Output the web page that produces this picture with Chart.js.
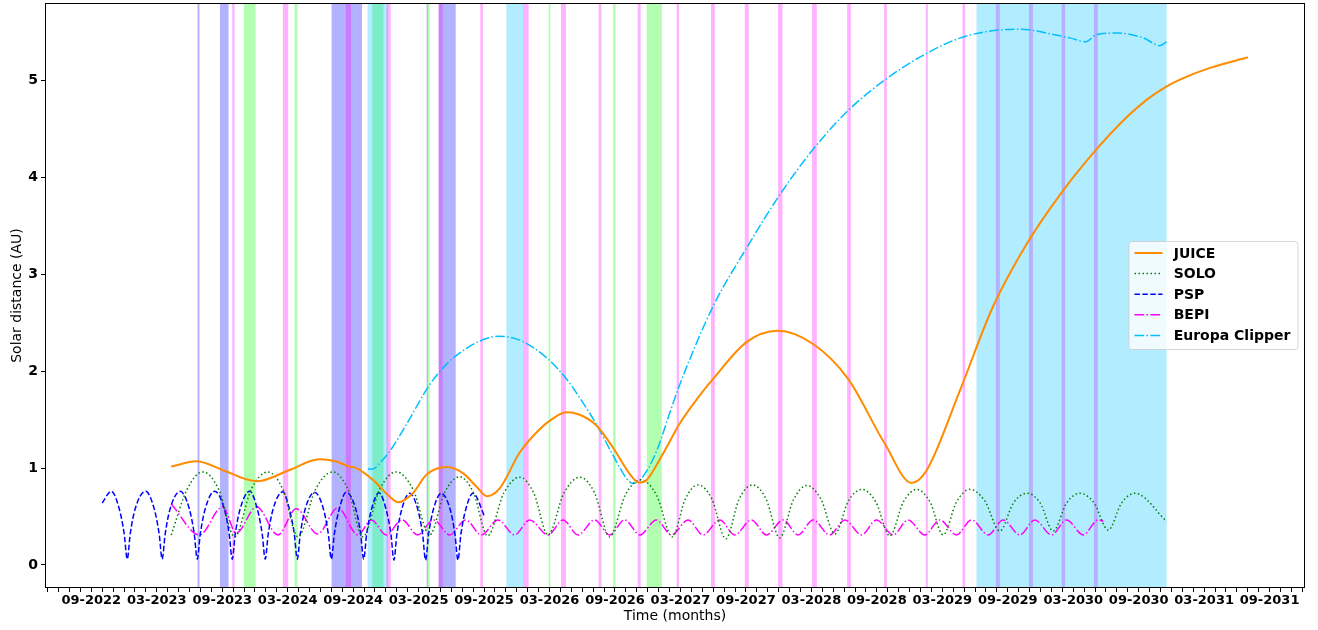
<!DOCTYPE html>
<html>
<head>
<meta charset="utf-8">
<title>Solar distance</title>
<script src="https://cdn.jsdelivr.net/npm/chart.js@4.4.1/dist/chart.umd.min.js"></script>
<style>
  html, body { margin: 0; padding: 0; background: #fff; }
  canvas { display: block; }
</style>
</head>
<body>
<canvas id="orbits" width="1318" height="630"></canvas>
<script>
// time is in decimal years, distance in AU

const juiceT = [2023.277, 2023.468, 2023.669, 2023.850, 2023.937, 2024.181, 2024.410, 2024.538, 2024.640, 2024.691,
  2024.818, 2024.945, 2025.009, 2025.123, 2025.226, 2025.379, 2025.505, 2025.608, 2025.690, 2025.786,
  2025.939, 2026.091, 2026.191, 2026.296, 2026.397, 2026.525, 2026.652, 2026.779, 2026.850, 2026.907,
  2027.034, 2027.161, 2027.314, 2027.416, 2027.671, 2027.910, 2028.180, 2028.447, 2028.728, 2028.932,
  2029.046, 2029.301, 2029.555, 2029.810, 2030.065, 2030.319, 2030.574, 2030.727, 2030.880, 2030.982,
  2031.211, 2031.501];
const juiceAU = [1.015, 1.07, 0.98, 0.885, 0.865, 0.98, 1.09, 1.067, 1.015, 1.0,
  0.878, 0.706, 0.647, 0.74, 0.93, 1.01, 0.947, 0.81, 0.71, 0.79,
  1.16, 1.40, 1.51, 1.575, 1.55, 1.44, 1.21, 0.94, 0.85, 0.875,
  1.15, 1.46, 1.75, 1.92, 2.3, 2.417, 2.28, 1.92, 1.25, 0.847,
  0.974, 1.80, 2.67, 3.31, 3.82, 4.25, 4.62, 4.80, 4.94, 5.01,
  5.13, 5.24];

const soloT = [2023.277, 2023.398, 2023.519, 2023.640, 2023.761, 2023.888, 2024.015, 2024.130, 2024.245, 2024.379,
  2024.512, 2024.627, 2024.741, 2024.869, 2024.996, 2025.124, 2025.251, 2025.366, 2025.480, 2025.587,
  2025.694, 2025.817, 2025.939, 2026.047, 2026.155, 2026.276, 2026.397, 2026.512, 2026.626, 2026.745,
  2026.863, 2026.984, 2027.105, 2027.203, 2027.301, 2027.407, 2027.513, 2027.615, 2027.717, 2027.821,
  2027.925, 2028.029, 2028.132, 2028.239, 2028.346, 2028.449, 2028.552, 2028.659, 2028.766, 2028.869,
  2028.972, 2029.073, 2029.173, 2029.275, 2029.377, 2029.492, 2029.606, 2029.710, 2029.813, 2029.914,
  2030.014, 2030.116, 2030.218, 2030.326, 2030.434, 2030.536, 2030.638, 2030.880];
const soloAU = [0.31, 0.78, 0.96, 0.78, 0.29, 0.78, 0.96, 0.78, 0.29, 0.78,
  0.96, 0.78, 0.29, 0.78, 0.96, 0.78, 0.31, 0.75, 0.91, 0.74,
  0.30, 0.74, 0.906, 0.74, 0.31, 0.74, 0.906, 0.74, 0.29, 0.72,
  0.88, 0.72, 0.29, 0.68, 0.826, 0.68, 0.27, 0.68, 0.826, 0.68,
  0.28, 0.67, 0.82, 0.68, 0.32, 0.66, 0.78, 0.65, 0.30, 0.65,
  0.78, 0.65, 0.31, 0.65, 0.78, 0.66, 0.35, 0.64, 0.74, 0.64,
  0.35, 0.64, 0.74, 0.64, 0.36, 0.64, 0.74, 0.45];

const pspT = [2022.750, 2022.819,
  2022.880, 2022.918, 2022.941, 2022.964, 2023.002, 2023.081,
  2023.147, 2023.185, 2023.208, 2023.231, 2023.269, 2023.346,
  2023.415, 2023.453, 2023.476, 2023.499, 2023.537, 2023.608,
  2023.682, 2023.720, 2023.743, 2023.766, 2023.804, 2023.876,
  2023.934, 2023.972, 2023.995, 2024.018, 2024.056, 2024.130,
  2024.179, 2024.217, 2024.240, 2024.263, 2024.301, 2024.372,
  2024.439, 2024.477, 2024.500, 2024.523, 2024.561, 2024.614,
  2024.686, 2024.724, 2024.747, 2024.770, 2024.808, 2024.864,
  2024.917, 2024.955, 2024.978, 2025.001, 2025.039, 2025.098,
  2025.159, 2025.197, 2025.220, 2025.243, 2025.281, 2025.340,
  2025.406, 2025.444, 2025.467, 2025.490, 2025.528, 2025.582,
  2025.671];
const pspAU = [0.64, 0.76,
  0.58, 0.32, 0.06, 0.32, 0.58, 0.76,
  0.58, 0.32, 0.06, 0.32, 0.58, 0.76,
  0.58, 0.32, 0.06, 0.32, 0.58, 0.76,
  0.58, 0.32, 0.06, 0.32, 0.58, 0.76,
  0.58, 0.32, 0.06, 0.32, 0.58, 0.755,
  0.58, 0.32, 0.06, 0.32, 0.58, 0.75,
  0.58, 0.32, 0.06, 0.32, 0.58, 0.75,
  0.58, 0.32, 0.06, 0.32, 0.58, 0.745,
  0.58, 0.32, 0.05, 0.32, 0.58, 0.74,
  0.58, 0.32, 0.05, 0.32, 0.58, 0.74,
  0.58, 0.32, 0.05, 0.32, 0.58, 0.74,
  0.50];

const bepiT = [2023.277, 2023.493, 2023.669, 2023.774, 2023.929, 2024.092, 2024.232, 2024.395, 2024.550, 2024.703,
  2024.806, 2024.919, 2025.041, 2025.159, 2025.281, 2025.404, 2025.526,
  2025.646, 2025.773, 2025.900, 2026.015, 2026.155, 2026.270, 2026.384, 2026.512, 2026.626, 2026.741,
  2026.856, 2026.983, 2027.098, 2027.225, 2027.339, 2027.467, 2027.581, 2027.709, 2027.824, 2027.951,
  2028.065, 2028.180, 2028.307, 2028.422, 2028.550, 2028.664, 2028.791, 2028.906, 2029.033, 2029.148,
  2029.275, 2029.390, 2029.517, 2029.632, 2029.759, 2029.874, 2030.001, 2030.116, 2030.243, 2030.358,
  2030.396];
const bepiAU = [0.63, 0.31, 0.60, 0.33, 0.60, 0.31, 0.58, 0.32, 0.59, 0.31,
  0.465, 0.31, 0.465, 0.31, 0.465, 0.31, 0.465,
  0.31, 0.465, 0.31, 0.465, 0.31, 0.465, 0.31, 0.465, 0.31, 0.465,
  0.31, 0.465, 0.31, 0.465, 0.31, 0.465, 0.31, 0.465, 0.31, 0.465,
  0.31, 0.465, 0.31, 0.465, 0.31, 0.465, 0.31, 0.465, 0.31, 0.465,
  0.31, 0.465, 0.31, 0.465, 0.31, 0.465, 0.31, 0.465, 0.31, 0.465,
  0.45];

const clipperT = [2024.779, 2024.818, 2024.869, 2024.945, 2025.073, 2025.251, 2025.379, 2025.505, 2025.633, 2025.773,
  2025.939, 2026.143, 2026.296, 2026.397, 2026.525, 2026.652, 2026.754, 2026.804, 2026.881, 2026.983,
  2027.085, 2027.161, 2027.416, 2027.671, 2027.925, 2028.180, 2028.447, 2028.728, 2029.046, 2029.352,
  2029.759, 2030.014, 2030.141, 2030.263, 2030.345, 2030.498, 2030.701, 2030.829, 2030.880];
const clipperAU = [0.99, 0.99, 1.05, 1.17, 1.45, 1.86, 2.07, 2.21, 2.31, 2.36,
  2.32, 2.14, 1.92, 1.725, 1.45, 1.13, 0.895, 0.84, 0.914, 1.17,
  1.57, 1.86, 2.67, 3.27, 3.82, 4.29, 4.69, 5.006, 5.28, 5.46,
  5.53, 5.475, 5.44, 5.40, 5.475, 5.49, 5.44, 5.36, 5.40];

// shaded windows [start, end] per mission
const pspWindows = [[2023.478, 2023.493], [2023.649, 2023.715], [2024.502, 2024.734], [2025.228, 2025.238],
  [2025.320, 2025.450], [2029.576, 2029.606], [2029.828, 2029.859], [2030.078, 2030.105], [2030.325, 2030.355]];
const soloWindows = [[2023.832, 2023.921], [2024.219, 2024.242], [2024.813, 2024.899], [2025.238, 2025.251],
  [2026.160, 2026.173], [2026.652, 2026.672], [2026.909, 2027.024]];
const bepiWindows = [[2023.743, 2023.761], [2024.130, 2024.171], [2024.611, 2024.650], [2024.922, 2024.953],
  [2025.320, 2025.350], [2025.638, 2025.658], [2025.964, 2026.007], [2026.254, 2026.292], [2026.542, 2026.563],
  [2026.840, 2026.863], [2027.138, 2027.156], [2027.400, 2027.429], [2027.658, 2027.688], [2027.912, 2027.946],
  [2028.172, 2028.208], [2028.440, 2028.468], [2028.722, 2028.743], [2029.041, 2029.056], [2029.321, 2029.341]];
const clipperWindows = [[2024.777, 2024.932], [2025.837, 2025.964], [2029.428, 2030.880]];

const xMin = 2022.313, xMax = 2031.937;
const yMin = -0.238, yMax = 5.80;
const yTicks = [0, 1, 2, 3, 4, 5];

function pts(t, au) {
  return t.map((x, i) => ({ x: x, y: au[i] }));
}

function monthLabel(v) {
  const idx = Math.round(v * 12);
  const year = Math.floor(idx / 12);
  const month = idx - year * 12 + 1;
  if (month !== 3 && month !== 9) return '';
  return String(month).padStart(2, '0') + '-' + year;
}

const FONT = "'DejaVu Sans', sans-serif";

// coloured windows behind the curves
const windowShading = {
  id: 'windowShading',
  beforeDatasetsDraw(chart) {
    const { ctx, chartArea: a, scales: { x } } = chart;
    const h = a.bottom - a.top;
    const band = (list, color, clear) => {
      list.forEach(([s, e]) => {
        const x0 = x.getPixelForValue(s);
        const w = Math.max(x.getPixelForValue(e) - x0, 1);
        if (clear) {
          ctx.fillStyle = '#fff';
          ctx.fillRect(x0, a.top, w, h);
        }
        ctx.fillStyle = color;
        ctx.fillRect(x0, a.top, w, h);
      });
    };
    ctx.save();
    ctx.beginPath();
    ctx.rect(a.left, a.top, a.right - a.left, h);
    ctx.clip();
    band(soloWindows, 'rgba(0,255,0,0.3)');
    band(clipperWindows, 'rgba(0,191,255,0.3)');
    band(pspWindows, 'rgba(0,0,255,0.3)', true);
    band(bepiWindows, 'rgba(255,0,255,0.3)');
    ctx.restore();
  }
};

// box around the plot and the legend in the middle of the right side
const frameAndLegend = {
  id: 'frameAndLegend',
  afterDraw(chart) {
    const { ctx, chartArea: a } = chart;
    ctx.save();
    ctx.strokeStyle = '#000';
    ctx.lineWidth = 1;
    ctx.strokeRect(Math.round(a.left) + 0.5, Math.round(a.top) + 0.5,
      Math.round(a.right - a.left) - 1, Math.round(a.bottom - a.top) - 1);

    const fs = 14;
    ctx.font = 'bold ' + fs + 'px ' + FONT;
    const sets = chart.data.datasets;
    const textW = Math.max(...sets.map(d => ctx.measureText(d.label).width));
    const pad = 0.4 * fs, handle = 2 * fs, gap = 0.8 * fs, row = 20.6;
    const w = pad + handle + gap + textW + pad + 2;
    const h = sets.length * row + 5;
    const bx = a.right - 0.5 * fs - w;
    const by = (a.top + a.bottom) / 2 - h / 2;

    ctx.beginPath();
    ctx.roundRect(bx, by, w, h, 3);
    ctx.fillStyle = 'rgba(255,255,255,0.8)';
    ctx.fill();
    ctx.strokeStyle = 'rgba(204,204,204,0.8)';
    ctx.stroke();

    sets.forEach((d, i) => {
      const cy = by + 11.5 + i * row;
      ctx.beginPath();
      ctx.setLineDash(d.borderDash || []);
      ctx.strokeStyle = d.borderColor;
      ctx.lineWidth = d.borderWidth;
      ctx.moveTo(bx + pad, cy);
      ctx.lineTo(bx + pad + handle, cy);
      ctx.stroke();
      ctx.setLineDash([]);
      ctx.fillStyle = '#000';
      ctx.textBaseline = 'middle';
      ctx.fillText(d.label, bx + pad + handle + gap, cy + 1);
    });
    ctx.restore();
  }
};

const line = (label, t, au, color, width, dash) => ({
  label: label,
  data: pts(t, au),
  borderColor: color,
  borderWidth: width,
  borderDash: dash,
  pointRadius: 0,
  fill: false,
  cubicInterpolationMode: 'monotone'
});

new Chart(document.getElementById('orbits'), {
  type: 'line',
  data: {
    datasets: [
      line('JUICE', juiceT, juiceAU, '#ff8c00', 2, []),
      line('SOLO', soloT, soloAU, '#008000', 1.5, [1.5, 2.5]),
      line('PSP', pspT, pspAU, '#0000ff', 1.5, [5.5, 2.4]),
      line('BEPI', bepiT, bepiAU, '#ff00ff', 1.5, [9.6, 2.4, 1.5, 2.4]),
      line('Europa Clipper', clipperT, clipperAU, '#00bfff', 1.5, [9.6, 2.4, 1.5, 2.4])
    ]
  },
  options: {
    responsive: false,
    animation: false,
    devicePixelRatio: 1,
    layout: { padding: { left: 0, right: 13, top: 3, bottom: 0 } },
    plugins: {
      legend: { display: false },
      tooltip: { enabled: false }
    },
    scales: {
      x: {
        type: 'linear',
        min: xMin,
        max: xMax,
        afterFit: s => { s.height = 42; s.paddingLeft = 0; s.paddingRight = 0; },
        afterBuildTicks: s => {
          const ticks = [];
          for (let i = Math.ceil(s.min * 12); i <= Math.floor(s.max * 12); i++) ticks.push({ value: i / 12 });
          s.ticks = ticks;
        },
        grid: { display: true, drawOnChartArea: false, drawTicks: true, tickLength: 4, color: '#000' },
        border: { display: false },
        ticks: {
          autoSkip: false,
          maxRotation: 0,
          padding: 1,
          color: '#000',
          font: { family: FONT, size: 13, weight: 'bold' },
          callback: v => monthLabel(v)
        },
        title: {
          display: true,
          text: 'Time (months)',
          color: '#000',
          font: { family: FONT, size: 14 },
          padding: { top: 0, bottom: 5.5 }
        }
      },
      y: {
        type: 'linear',
        min: yMin,
        max: yMax,
        afterFit: s => { s.width = 45; s.paddingTop = 0; s.paddingBottom = 0; },
        afterBuildTicks: s => { s.ticks = yTicks.map(v => ({ value: v })); },
        grid: { display: true, drawOnChartArea: false, drawTicks: true, tickLength: 4, color: '#000' },
        border: { display: false },
        ticks: {
          padding: 3,
          color: '#000',
          font: { family: FONT, size: 14, weight: 'bold' }
        },
        title: {
          display: true,
          text: 'Solar distance (AU)',
          color: '#000',
          font: { family: FONT, size: 14 },
          padding: { top: 8.5, bottom: 0 }
        }
      }
    }
  },
  plugins: [windowShading, frameAndLegend]
});
</script>
</body>
</html>
